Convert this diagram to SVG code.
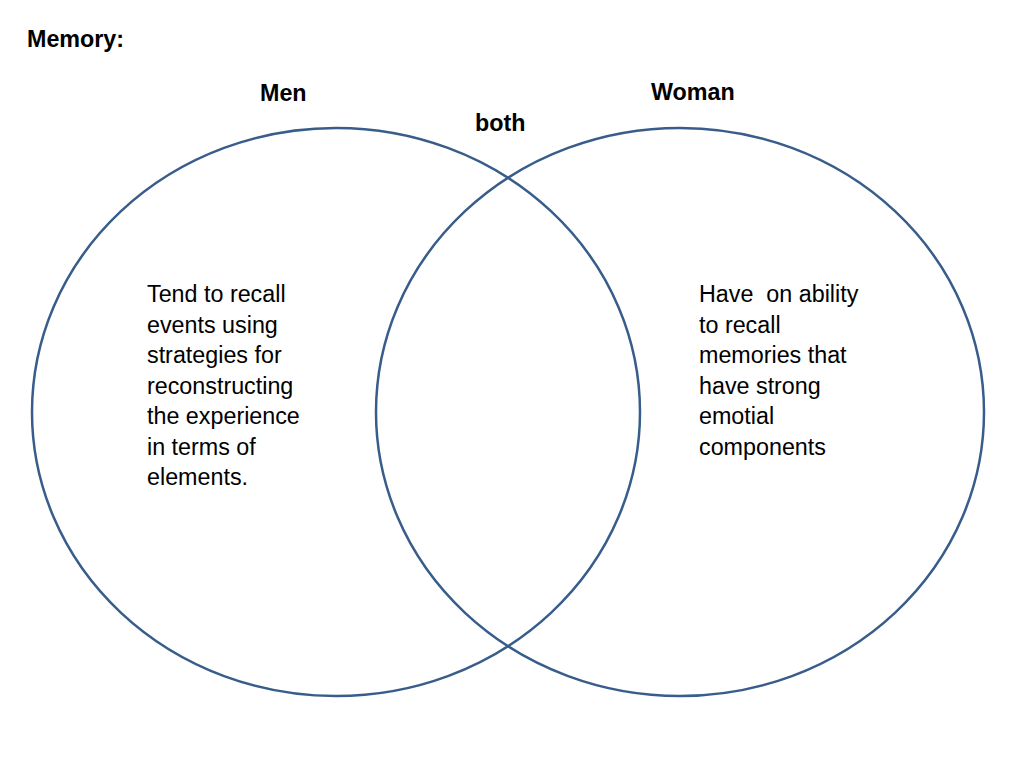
<svg xmlns="http://www.w3.org/2000/svg" width="1024" height="768" viewBox="0 0 1024 768">
<style>
.c{fill:none;stroke:#385D8A;stroke-width:2.5}
.t{font-family:"Liberation Sans",Arial,sans-serif;font-size:23.3px;fill:#000}
.b{font-family:"Liberation Sans",Arial,sans-serif;font-size:23.3px;font-weight:bold;fill:#000}
</style>
<rect width="1024" height="768" fill="#fff"/>
<text class="b" x="27" y="47">Memory:</text>
<g id="men">
<ellipse class="c" cx="336" cy="412" rx="304" ry="284"/>
<text class="b" x="260" y="101">Men</text>
<text class="t" x="147" y="302">Tend to recall</text>
<text class="t" x="147" y="333">events using</text>
<text class="t" x="147" y="363">strategies for</text>
<text class="t" x="147" y="394">reconstructing</text>
<text class="t" x="147" y="424">the experience</text>
<text class="t" x="147" y="455">in terms of</text>
<text class="t" x="147" y="485">elements.</text>
</g>
<g id="woman">
<ellipse class="c" cx="680" cy="412" rx="304" ry="284"/>
<text class="b" x="651" y="100">Woman</text>
<text class="t" x="699" y="302" xml:space="preserve">Have  on ability</text>
<text class="t" x="699" y="333">to recall</text>
<text class="t" x="699" y="363">memories that</text>
<text class="t" x="699" y="394">have strong</text>
<text class="t" x="699" y="424">emotial</text>
<text class="t" x="699" y="455">components</text>
</g>
<g id="both">
<text class="b" x="475" y="131">both</text>
</g>
<g id="connectors"/>
</svg>
